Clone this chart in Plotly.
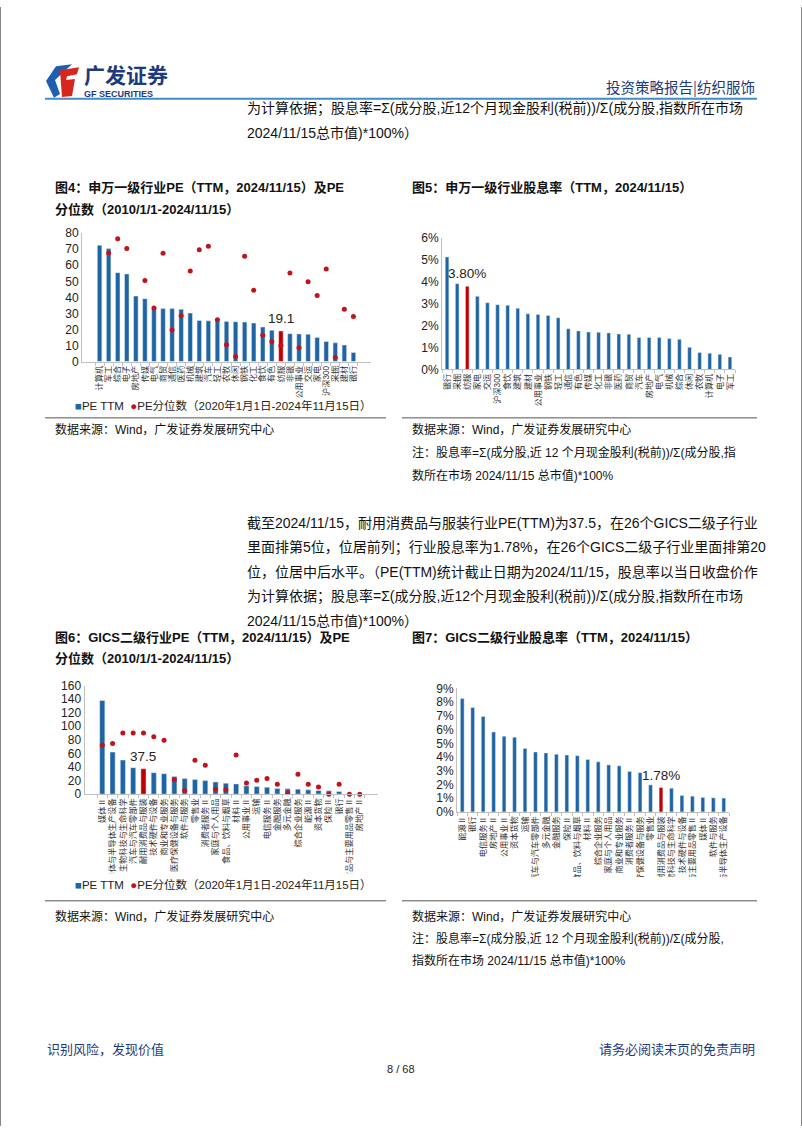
import plotly.graph_objects as go

W, H = 802, 1133


def px(x):
    return x / W


def py(y):
    return 1 - y / H


BLUE = "#1f65a3"
RED = "#c00000"
DOT = "#c0141c"
FONT = "Liberation Sans, Noto Sans CJK SC, sans-serif"

# ---------------- data: 申万一级行业 PE ----------------
sw_pe_cats = ["计算机", "军工", "综合", "电子", "房地产", "传媒", "电气", "商贸", "通信", "医药",
              "机械", "建筑", "汽车", "轻工", "农牧", "休闲", "钢铁", "化工", "食饮", "有色",
              "纺服", "非银", "公用事业", "交运", "家电", "沪深300", "采掘", "建材", "银行"]
sw_pe_ttm = [72.4, 70.4, 55.4, 54.6, 40.8, 39.2, 33.0, 33.0, 33.0, 32.6,
             30.2, 25.6, 25.4, 25.2, 25.0, 24.8, 24.6, 24.0, 21.5, 19.5,
             19.1, 17.4, 17.2, 17.0, 15.0, 12.5, 11.7, 10.3, 5.7]
sw_pe_pct = [92.0, 67.7, 76.5, 70.4, 98.0, 50.5, 33.4, 67.5, 19.7, 28.5,
             56.4, 69.7, 71.8, 26.1, 10.5, 3.1, 65.6, 44.5, 16.4, 12.3,
             10.0, 55.2, 8.6, 49.8, 41.2, 57.6, 2.5, 32.6, 28.1]

# ---------------- data: 申万一级行业 股息率 ----------------
sw_dy_cats = ["银行", "采掘", "纺服", "家电", "交运", "沪深300", "食饮", "建筑", "建材", "公用事业",
              "钢铁", "轻工", "通信", "有色", "传媒", "化工", "非银", "医药", "商贸", "汽车",
              "房地产", "电气", "机械", "综合", "休闲", "农牧", "计算机", "电子", "军工"]
sw_dy = [5.14, 3.92, 3.80, 3.34, 3.05, 2.96, 2.93, 2.80, 2.54, 2.51,
         2.47, 2.36, 1.86, 1.76, 1.71, 1.70, 1.67, 1.62, 1.61, 1.46,
         1.46, 1.46, 1.41, 1.38, 1.01, 0.77, 0.74, 0.69, 0.57]

# ---------------- data: GICS二级行业 PE ----------------
gics_pe_cats = ["媒体Ⅱ", "半导体与半导体生产设备", "制药、生物科技与生命科学", "汽车与汽车零部件",
                "耐用消费品与服装", "技术硬件与设备", "商业和专业服务", "医疗保健设备与服务",
                "软件与服务", "零售业", "消费者服务Ⅱ", "家庭与个人用品", "食品、饮料与烟草",
                "材料Ⅱ", "公用事业Ⅱ", "运输", "电信服务Ⅱ", "金融服务", "多元金融",
                "综合企业服务", "能源Ⅱ", "资本货物", "保险Ⅱ", "银行", "食品与主要用品零售Ⅱ", "房地产Ⅱ"]
gics_pe_ttm = [138.0, 62.0, 50.2, 39.0, 37.5, 31.7, 30.2, 25.9, 22.9, 21.5,
               20.0, 18.0, 16.1, 15.1, 12.2, 11.2, 10.2, 8.3, 7.8, 7.3,
               6.3, 5.4, 4.9, 3.9, -3.0, -8.0]
gics_pe_pct = [72.2, 74.6, 90.2, 90.2, 90.2, 84.4, 79.5, 21.5, 5.4, 49.8,
               42.4, 7.3, 6.3, 57.6, 16.6, 20.5, 22.9, 14.6, 2.0, 29.3,
               14.6, 10.7, 0.0, 14.6, 0.0, 0.0]

# ---------------- data: GICS二级行业 股息率 ----------------
gics_dy_cats = ["能源Ⅱ", "银行", "电信服务Ⅱ", "房地产Ⅱ", "公用事业Ⅱ", "资本货物", "运输",
                "汽车与汽车零部件", "多元金融", "金融服务", "保险Ⅱ", "食品、饮料与烟草", "材料Ⅱ",
                "综合企业服务", "家庭与个人用品", "商业和专业服务", "消费者服务Ⅱ", "医疗保健设备与服务",
                "零售业", "耐用消费品与服装", "制药、生物科技与生命科学", "技术硬件与设备",
                "食品与主要用品零售Ⅱ", "媒体Ⅱ", "软件与服务", "半导体与半导体生产设备"]
gics_dy = [8.26, 7.61, 6.96, 5.83, 5.52, 5.45, 4.63, 4.37, 4.30, 4.20,
           4.15, 4.10, 3.82, 3.65, 3.43, 3.36, 2.95, 2.86, 1.97, 1.78,
           1.73, 1.20, 1.15, 1.06, 1.03, 1.01]

HL_SW = "纺服"
HL_GICS = "耐用消费品与服装"

fig = go.Figure()


def colors(cats, hl):
    return [RED if c == hl else BLUE for c in cats]


# chart 4
fig.add_trace(go.Bar(x=sw_pe_cats, y=sw_pe_ttm, marker_color=colors(sw_pe_cats, HL_SW),
                     width=0.5, xaxis="x", yaxis="y", showlegend=False))
fig.add_trace(go.Scatter(x=sw_pe_cats, y=sw_pe_pct, mode="markers",
                         marker=dict(color=DOT, size=5), xaxis="x", yaxis="y",
                         cliponaxis=True, showlegend=False))
# chart 5
fig.add_trace(go.Bar(x=sw_dy_cats, y=sw_dy, marker_color=colors(sw_dy_cats, HL_SW),
                     width=0.36, xaxis="x2", yaxis="y2", showlegend=False))
# chart 6
fig.add_trace(go.Bar(x=gics_pe_cats, y=gics_pe_ttm, marker_color=colors(gics_pe_cats, HL_GICS),
                     width=0.5, xaxis="x3", yaxis="y3", showlegend=False))
fig.add_trace(go.Scatter(x=gics_pe_cats, y=gics_pe_pct, mode="markers",
                         marker=dict(color=DOT, size=5), xaxis="x3", yaxis="y3",
                         cliponaxis=False, showlegend=False))
# chart 7
fig.add_trace(go.Bar(x=gics_dy_cats, y=gics_dy, marker_color=colors(gics_dy_cats, HL_GICS),
                     width=0.36, xaxis="x4", yaxis="y4", showlegend=False))

xcommon = dict(type="category", tickangle=-90, tickfont=dict(size=8.2, color="#333", family=FONT),
               showline=True, linecolor="#bfbfbf", linewidth=1, ticks="outside", ticklen=3,
               tickcolor="#bfbfbf", tickson="boundaries", showgrid=False, zeroline=False, fixedrange=True,
               tickmode="array")
ycommon = dict(showline=True, linecolor="#bfbfbf", linewidth=1, showgrid=False, zeroline=False,
               tickfont=dict(size=12, color="#222", family=FONT), ticks="", fixedrange=True)

fig.update_layout(
    xaxis=dict(xcommon, domain=[px(82), px(371)], anchor="y", tickvals=sw_pe_cats, ticktext=sw_pe_cats),
    yaxis=dict(ycommon, domain=[py(359), py(229)], range=[0, 80], dtick=10, anchor="x"),
    xaxis2=dict(xcommon, domain=[px(442), px(735)], anchor="y2", tickvals=sw_dy_cats, ticktext=sw_dy_cats),
    yaxis2=dict(ycommon, domain=[py(367), py(234)], range=[0, 6], dtick=1, ticksuffix="%", anchor="x2"),
    xaxis3=dict(xcommon, domain=[px(84.5), px(377.5)], anchor="y3", tickvals=gics_pe_cats,
                ticktext=gics_pe_cats),
    yaxis3=dict(ycommon, domain=[py(797), py(687)], range=[0, 160], dtick=20, anchor="x3"),
    xaxis4=dict(xcommon, domain=[px(457), px(729)], anchor="y4", tickvals=gics_dy_cats,
                ticktext=gics_dy_cats),
    yaxis4=dict(ycommon, domain=[py(815), py(690)], range=[0, 9], dtick=1, ticksuffix="%", anchor="x4"),
)

ann = []


def txt(x, y, s, size=14, color="#111", anchor="left", bold=False, family=FONT):
    ann.append(dict(x=px(x), y=py(y), xref="paper", yref="paper", text=("<b>%s</b>" % s) if bold else s,
                    showarrow=False, xanchor=anchor, yanchor="middle",
                    font=dict(size=size, color=color, family=family)))


# data labels on highlighted bars
def dlabel(xa, ya, cats, vals, hl, fmt):
    i = cats.index(hl)
    ann.append(dict(x=cats[i], y=vals[i], xref=xa, yref=ya, text=fmt.format(vals[i]), showarrow=False,
                    yanchor="bottom", yshift=3, font=dict(size=13.5, color="#222", family=FONT)))


dlabel("x", "y", sw_pe_cats, sw_pe_ttm, HL_SW, "{:.1f}")
dlabel("x2", "y2", sw_dy_cats, sw_dy, HL_SW, "{:.2f}%")
dlabel("x3", "y3", gics_pe_cats, gics_pe_ttm, HL_GICS, "{:.1f}")
dlabel("x4", "y4", gics_dy_cats, gics_dy, HL_GICS, "{:.2f}%")

NAVY = "#1d3a7c"
# header
txt(82, 68, "广发证券", size=21, color=NAVY, bold=True, family="Noto Sans CJK SC")
txt(82, 88, "GF SECURITIES", size=9, color=NAVY, bold=True)
txt(757, 80, "投资策略报告|纺织服饰", size=14.5, color=NAVY, anchor="right", family="Noto Sans CJK SC")

# body text
txt(245, 103, "为计算依据；股息率=Σ(成分股,近12个月现金股利(税前))/Σ(成分股,指数所在市场")
txt(245, 128, "2024/11/15总市值)*100%）")

txt(245, 522, "截至2024/11/15，耐用消费品与服装行业PE(TTM)为37.5，在26个GICS二级子行业")
txt(245, 547, "里面排第5位，位居前列；行业股息率为1.78%，在26个GICS二级子行业里面排第20")
txt(245, 572, "位，位居中后水平。（PE(TTM)统计截止日期为2024/11/15，股息率以当日收盘价作")
txt(245, 597, "为计算依据；股息率=Σ(成分股,近12个月现金股利(税前))/Σ(成分股,指数所在市场")
txt(245, 622, "2024/11/15总市值)*100%）")

# figure titles
txt(53, 183, "图4：申万一级行业PE（TTM，2024/11/15）及PE", size=13, bold=True)
txt(53, 205, "分位数（2010/1/1-2024/11/15）", size=13, bold=True)
txt(410, 183, "图5：申万一级行业股息率（TTM，2024/11/15）", size=13, bold=True)
txt(53, 638, "图6：GICS二级行业PE（TTM，2024/11/15）及PE", size=13, bold=True)
txt(53, 660, "分位数（2010/1/1-2024/11/15）", size=13, bold=True)
txt(410, 638, "图7：GICS二级行业股息率（TTM，2024/11/15）", size=13, bold=True)

legend_txt = ('<span style="color:%s">■</span>PE TTM  <span style="color:%s">●</span>'
              'PE分位数（2020年1月1日-2024年11月15日）') % (BLUE, DOT)
txt(73, 403, legend_txt, size=11.5, color="#222")
txt(73, 888, legend_txt, size=11.5, color="#222")

# sources
src = "数据来源：Wind，广发证券发展研究中心"
txt(53, 428, src, size=12)
txt(410, 428, src, size=12)
txt(410, 451, "注：股息率=Σ(成分股,近 12 个月现金股利(税前))/Σ(成分股,指", size=12)
txt(410, 474, "数所在市场 2024/11/15 总市值)*100%", size=12)
txt(53, 921, src, size=12)
txt(410, 921, src, size=12)
txt(410, 943, "注：股息率=Σ(成分股,近 12 个月现金股利(税前))/Σ(成分股,", size=12)
txt(410, 965, "指数所在市场 2024/11/15 总市值)*100%", size=12)

# footer
txt(45, 1055, "识别风险，发现价值", size=13, color=NAVY, family="Noto Sans CJK SC")
txt(757, 1055, "请务必阅读末页的免责声明", size=13, color=NAVY, anchor="right", family="Noto Sans CJK SC")
txt(401, 1075, "8 / 68", size=11, color="#222", anchor="center")

shapes = []


def line(x0, y0, x1, y1, color="#555", width=1):
    shapes.append(dict(type="line", xref="paper", yref="paper", x0=px(x0), y0=py(y0), x1=px(x1), y1=py(y1),
                       line=dict(color=color, width=width), layer="above"))


def rect(x0, y0, x1, y1, fill="white"):
    shapes.append(dict(type="rect", xref="paper", yref="paper", x0=px(x0), y0=py(y0), x1=px(x1), y1=py(y1),
                       fillcolor=fill, line=dict(width=0), layer="above"))


# clip long axis labels like the original chart frames
rect(60, 877, 395, 935)
rect(440, 881, 775, 935)

# header rule
line(45, 93, 757, 93, color="#3f8cc8", width=2)
# separators
line(45, 416, 386, 416)
line(402, 416, 757, 416)
line(45, 905, 386, 905)
line(402, 905, 757, 905)
# page border
line(0.5, 0, 0.5, 1133, color="#888")
line(801.5, 0, 801.5, 1133, color="#888")

# logo: blue G-shape and red F
shapes.append(dict(type="path", xref="paper", yref="paper", layer="above",
                   path="M %f %f L %f %f L %f %f L %f %f L %f %f L %f %f Z" % (
                       px(72), py(58), px(56), py(60), px(46), py(75), px(54), py(92), px(60), py(88),
                       px(55), py(74)),
                   fillcolor="#1f5fb0", line=dict(width=0)))
shapes.append(dict(type="path", xref="paper", yref="paper", layer="above",
                   path="M %f %f L %f %f L %f %f L %f %f L %f %f L %f %f L %f %f L %f %f Z" % (
                       px(60), py(64), px(79), py(61), px(77), py(68), px(67), py(70), px(66), py(74),
                       px(75), py(73), px(72), py(90), px(62), py(91)),
                   fillcolor="#d7261e", line=dict(width=0)))

fig.update_layout(width=W, height=H, margin=dict(l=0, r=0, t=0, b=0),
                  paper_bgcolor="white", plot_bgcolor="white", bargap=0.5,
                  annotations=ann, shapes=shapes, showlegend=False,
                  font=dict(family=FONT))

fig.write_html("out.html", config={"displayModeBar": False},
               post_script="document.body.style.margin='0';document.body.style.overflow='hidden';")
